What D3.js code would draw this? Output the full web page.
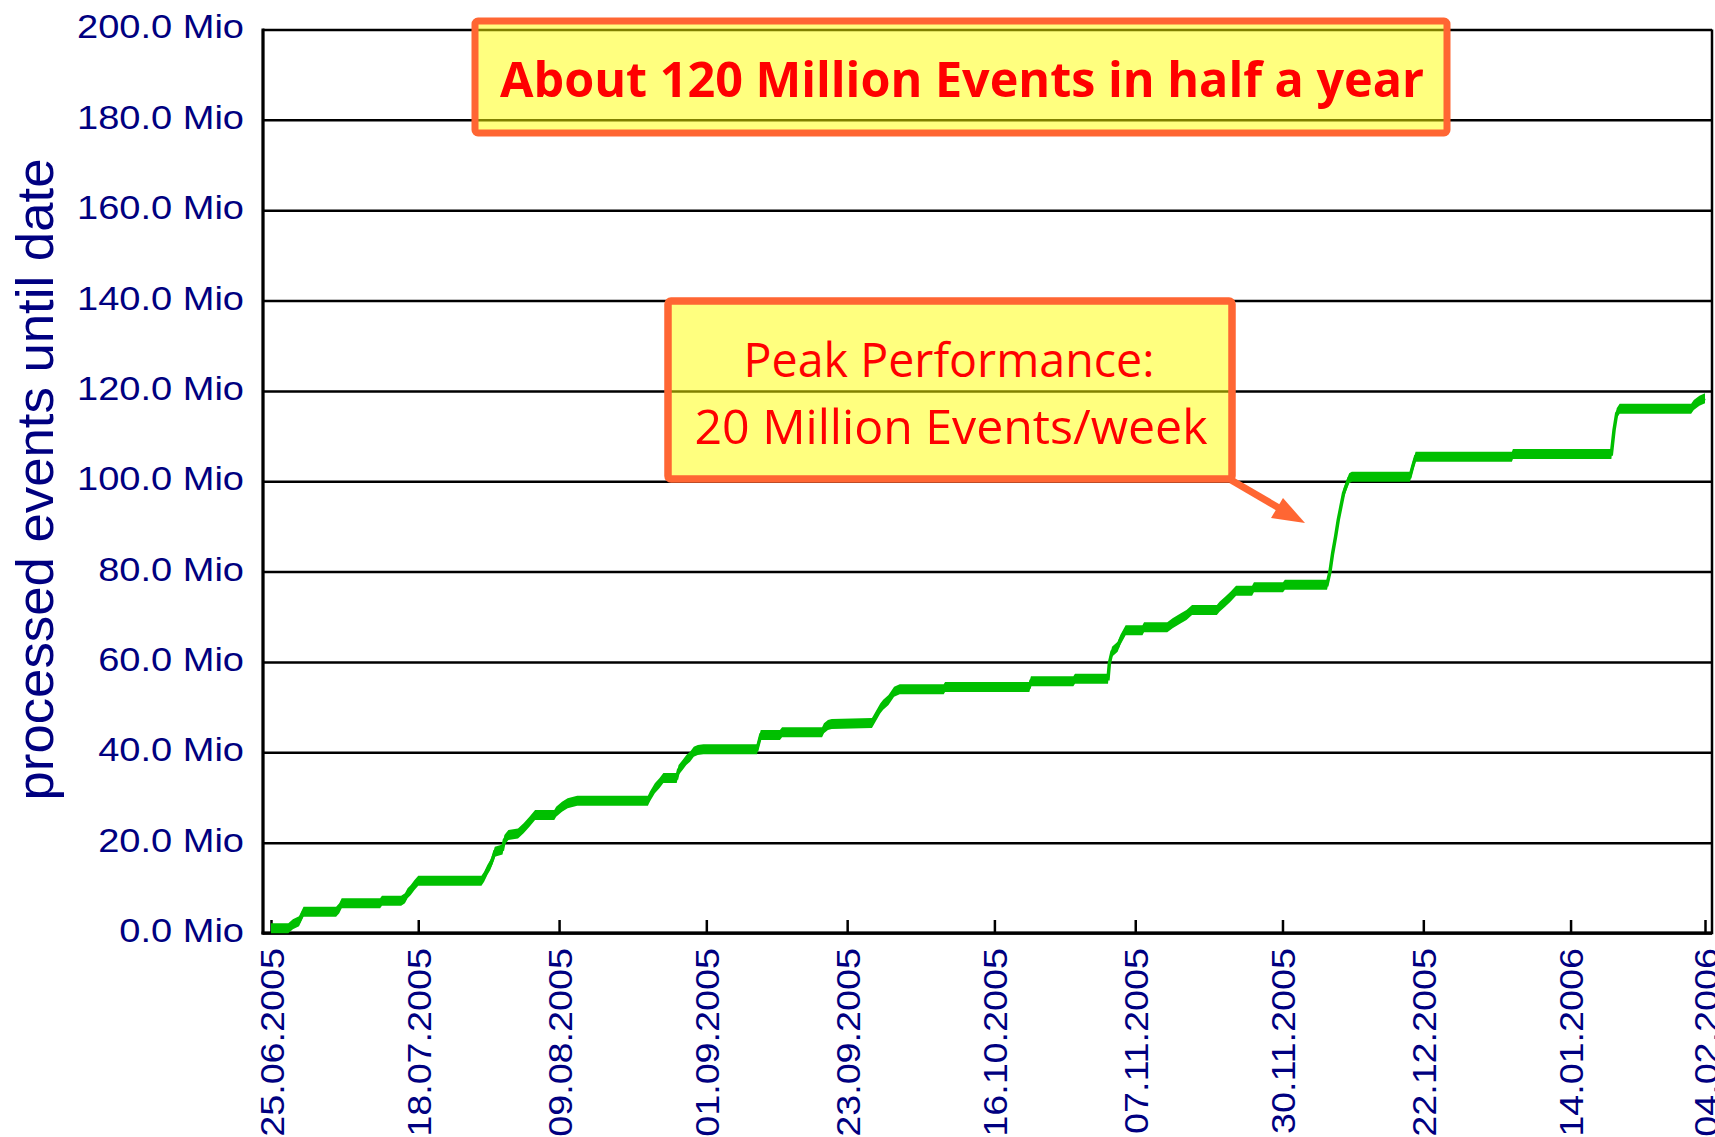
<!DOCTYPE html>
<html>
<head>
<meta charset="utf-8">
<script src="https://cdn.jsdelivr.net/npm/d3@7"></script>
<style>
  html, body { margin: 0; padding: 0; background: #fff; overflow: hidden; }
  svg { display: block; }
</style>
</head>
<body>
<svg id="chart" width="1715" height="1137"></svg>
<script>
// ---------------- data ----------------
const xTickLabels = ["25.06.2005","18.07.2005","09.08.2005","01.09.2005","23.09.2005",
  "16.10.2005","07.11.2005","30.11.2005","22.12.2005","14.01.2006","04.02.2006"];
const yTicks = [0, 20, 40, 60, 80, 100, 120, 140, 160, 180, 200];
const yTitle = "processed events until date";
const note1 = "About 120 Million Events in half a year";
const note2 = ["Peak Performance:", "20 Million Events/week"];

// cumulative processed events (Mio) at date-hour
const dates = [
  "2005-06-25 00","2005-06-27 17","2005-06-28 10","2005-06-29 09","2005-06-30 02","2005-07-05 04",
  "2005-07-05 16","2005-07-06 01","2005-07-12 01","2005-07-12 08","2005-07-15 08","2005-07-15 22",
  "2005-07-16 08","2005-07-16 20","2005-07-17 10","2005-07-18 00","2005-07-27 21","2005-07-28 07",
  "2005-07-28 19","2005-07-29 06","2005-07-29 16","2005-07-29 23","2005-07-31 04","2005-07-31 11",
  "2005-08-01 02","2005-08-02 14","2005-08-03 11","2005-08-04 09","2005-08-05 06","2005-08-08 06",
  "2005-08-08 13","2005-08-09 11","2005-08-10 08","2005-08-11 20","2005-08-22 21","2005-08-23 04",
  "2005-08-23 23","2005-08-24 16","2005-08-25 07","2005-08-27 09","2005-08-27 16","2005-08-28 07",
  "2005-08-28 21","2005-08-29 11","2005-08-30 01","2005-08-30 16","2005-08-31 13","2005-09-08 22",
  "2005-09-09 12","2005-09-12 12","2005-09-12 20","2005-09-19 02","2005-09-19 09","2005-09-20 00",
  "2005-09-20 14","2005-09-26 21","2005-09-28 04","2005-09-28 15","2005-09-29 11","2005-09-30 08",
  "2005-10-01 05","2005-10-08 02","2005-10-08 07","2005-10-21 11","2005-10-21 17","2005-10-28 08",
  "2005-10-28 14","2005-11-02 18","2005-11-02 23","2005-11-03 09","2005-11-04 06","2005-11-04 16",
  "2005-11-05 12","2005-11-08 03","2005-11-08 09","2005-11-12 00","2005-11-12 20","2005-11-14 03",
  "2005-11-15 00","2005-11-15 21","2005-11-19 18","2005-11-20 04","2005-11-21 01","2005-11-21 21",
  "2005-11-22 18","2005-11-25 06","2005-11-25 13","2005-11-30 02","2005-11-30 09","2005-12-06 23",
  "2005-12-07 10","2005-12-07 20","2005-12-08 07","2005-12-08 17","2005-12-09 03","2005-12-09 13",
  "2005-12-10 00","2005-12-10 10","2005-12-10 20","2005-12-19 22","2005-12-20 08","2005-12-20 19",
  "2006-01-04 20","2006-01-05 00","2006-01-20 09","2006-01-20 19","2006-01-21 05","2006-01-21 16",
  "2006-02-01 20","2006-02-02 06","2006-02-03 03","2006-02-04 00"
];
const events = [
  1.03, 1.03, 1.92, 2.58, 4.72, 4.72,
  5.46, 6.57, 6.57, 7.16, 7.16, 7.67,
  8.78, 9.52, 10.63, 11.58, 11.58, 12.47,
  13.95, 15.05, 16.53, 18.0, 18.5, 20.59,
  21.69, 22.0, 23.17, 24.64, 26.12, 26.12,
  26.86, 27.97, 28.70, 29.29, 29.29, 30.18,
  32.02, 33.13, 34.31, 34.31, 36.08, 37.19,
  38.30, 39.03, 40.14, 40.51, 40.66, 40.66,
  43.83, 43.83, 44.42, 44.42, 45.31, 46.04,
  46.27, 46.5, 49.7, 50.5, 51.6, 53.4,
  53.94, 53.94, 54.46, 54.46, 55.71, 55.71,
  56.30, 56.30, 59.69, 62.28, 63.38, 64.86,
  67.0, 67.0, 67.66, 67.66, 68.55, 69.66,
  70.39, 71.5, 71.5, 72.24, 73.34, 74.45,
  75.78, 75.78, 76.52, 76.52, 77.11, 77.11,
  79.98, 84.04, 87.73, 91.42, 94.37, 97.33,
  99.17, 100.65, 101.01, 101.01, 103.23, 105.44,
  105.44, 106.03, 106.03, 111.34, 115.04, 116.07,
  116.07, 116.88, 117.84, 118.36
];

// ---------------- layout ----------------
const frame = { left: 263, right: 1712, top: 29.5, bottom: 933 };
const navy = "#000080";
const green = "#00bf00";
const orange = "#ff6633";

const parseTick = d3.timeParse("%d.%m.%Y");
const parsePt = d3.timeParse("%Y-%m-%d %H");
const tickDates = xTickLabels.map(parseTick);
const points = dates.map((d, i) => ({ t: parsePt(d), v: events[i] }));

const svg = d3.select("#chart");
svg.append("rect").attr("width", 1715).attr("height", 1137).attr("fill", "#fff");

const x = d3.scaleTime()
  .domain([tickDates[0], tickDates[tickDates.length - 1]])
  .range([271, 1705]);
const y = d3.scaleLinear().domain([0, 200]).range([frame.bottom, frame.top]);

// y axis with full-width gridlines
const yAxis = d3.axisLeft(y)
  .tickValues(yTicks)
  .tickSizeInner(-(frame.right - frame.left))
  .tickSizeOuter(0)
  .tickPadding(19)
  .tickFormat(d => d.toFixed(1) + " Mio");
const sx = 1.17;
const gy = svg.append("g").attr("transform", `translate(${frame.left},0)`).call(yAxis);
gy.select(".domain").remove();
gy.selectAll(".tick line").attr("stroke", "#000").attr("stroke-width", 2.5);
gy.selectAll(".tick text")
  .attr("fill", navy)
  .attr("font-family", "'Liberation Sans', Arial, sans-serif")
  .attr("font-size", 32.5)
  .attr("x", -19 / sx)
  .attr("dy", "0.26em")
  .attr("transform", `scale(${sx},1)`);

// x axis: inward ticks, rotated date labels
const xAxis = d3.axisBottom(x)
  .tickValues(tickDates)
  .tickSizeInner(-13)
  .tickSizeOuter(0)
  .tickPadding(13)
  .tickFormat(d3.timeFormat("%d.%m.%Y"));
const gx = svg.append("g").attr("transform", `translate(0,${frame.bottom})`).call(xAxis);
gx.select(".domain").remove();
gx.selectAll(".tick line").attr("stroke", "#000").attr("stroke-width", 2.5);
const sxx = 1.11;
gx.selectAll(".tick text")
  .attr("fill", navy)
  .attr("font-family", "'Liberation Sans', Arial, sans-serif")
  .attr("font-size", 34)
  .attr("text-anchor", "end")
  .attr("y", 0)
  .attr("x", -15 / sxx)
  .attr("dy", "0.36em")
  .attr("transform", `rotate(-90) scale(${sxx},1)`);

// frame
svg.append("path")
  .attr("d", `M${frame.left},${frame.top}V${frame.bottom}H${frame.right}V${frame.top}`)
  .attr("fill", "none").attr("stroke", "#000").attr("stroke-width", 2.5);
svg.append("line")
  .attr("x1", frame.left).attr("x2", frame.left)
  .attr("y1", frame.top - 1).attr("y2", frame.bottom + 1.5)
  .attr("stroke", "#000").attr("stroke-width", 3);
svg.append("line")
  .attr("x1", frame.left - 1.5).attr("x2", frame.right)
  .attr("y1", frame.bottom).attr("y2", frame.bottom)
  .attr("stroke", "#000").attr("stroke-width", 3);

// y title
svg.append("text")
  .attr("transform", "translate(53,479.5) rotate(-90)")
  .attr("text-anchor", "middle")
  .attr("fill", navy)
  .attr("font-family", "'Liberation Sans', Arial, sans-serif")
  .attr("font-size", 52)
  .attr("textLength", 642)
  .attr("lengthAdjust", "spacingAndGlyphs")
  .text(yTitle);

// green cumulative line: thick band + thin stroke
const band = 5;
svg.append("path")
  .datum(points)
  .attr("d", d3.area().x(d => x(d.t)).y0(d => y(d.v) + band).y1(d => y(d.v) - band))
  .attr("fill", green);
svg.append("path")
  .datum(points)
  .attr("d", d3.line().x(d => x(d.t)).y(d => y(d.v)))
  .attr("fill", "none").attr("stroke", green).attr("stroke-width", 3.5);

// annotation boxes
function box(x0, y0, w, h, sw) {
  svg.append("rect")
    .attr("x", x0).attr("y", y0).attr("width", w).attr("height", h)
    .attr("rx", 3).attr("ry", 3)
    .attr("fill", "#ffff00").attr("fill-opacity", 0.5)
    .attr("stroke", orange).attr("stroke-width", sw);
}
const noteFont = "'Open Sans', 'Noto Sans', 'DejaVu Sans', sans-serif";

box(475, 21, 972, 112, 7);
svg.append("text")
  .attr("x", 962).attr("y", 97)
  .attr("text-anchor", "middle")
  .attr("fill", "#ff0000")
  .attr("font-family", noteFont)
  .attr("font-weight", 700)
  .attr("font-size", 48)
  .attr("textLength", 924)
  .attr("lengthAdjust", "spacingAndGlyphs")
  .text(note1);

box(668, 301, 564, 178, 7.5);
svg.append("text")
  .attr("x", 949).attr("y", 377)
  .attr("text-anchor", "middle")
  .attr("fill", "#ff0000")
  .attr("font-family", noteFont)
  .attr("font-size", 48)
  .attr("textLength", 411)
  .attr("lengthAdjust", "spacingAndGlyphs")
  .text(note2[0]);
svg.append("text")
  .attr("x", 951).attr("y", 444)
  .attr("text-anchor", "middle")
  .attr("fill", "#ff0000")
  .attr("font-family", noteFont)
  .attr("font-size", 48)
  .attr("textLength", 513)
  .attr("lengthAdjust", "spacingAndGlyphs")
  .text(note2[1]);

// arrow
svg.append("line")
  .attr("x1", 1231).attr("y1", 480).attr("x2", 1279).attr("y2", 508)
  .attr("stroke", orange).attr("stroke-width", 7);
svg.append("polygon")
  .attr("points", "1305,523 1271,518 1283,498")
  .attr("fill", orange);
</script>
</body>
</html>
